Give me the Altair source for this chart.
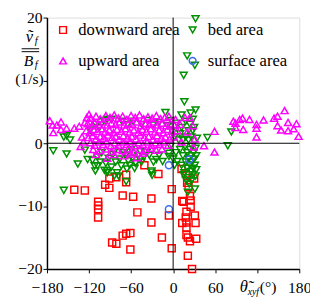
import altair as alt
import pandas as pd

# ---------------- data ----------------
down_x = [-141, -126, -107, -107, -107, -107, -97, -91, -91, -81, -67, -67, -72, -57, -51,
          -87, -81, -72, -67, -61, -61, -41, -31, -31, -21, -16, -6, -2, -2, 12, 13, 18, 20,
          30, 25, 25, 19, 18, 13, 19, 19, 31, 32, 19, 21, 24, 33, 21, 27, 15, 22, 24]
down_y = [-7.4, -7.5, -9.3, -9.9, -10.5, -11.8, -6.6, -7.1, -5.6, -5.4, -5.0, -6.2, -8.3, -8.5, -11.0,
          -15.8, -16.0, -14.7, -14.4, -14.3, -16.9, -3.5, -8.8, -12.6, -4.9, -15.0, -11.5, -7.3, -16.7, -4.1, -9.2, -4.8, -6.3,
          -5.6, -9.1, -10.1, -10.9, -11.8, -12.7, -12.6, -13.4, -11.5, -12.7, -14.6, -15.0, -15.6, -15.2, -17.9, -20.0, -9.3, -7.0, -8.4]

bed_x = [32, 20, 31, 15, 16, 32, -11, 49, 83, 78,
         -171, -152, -136, -156, -156, -152, -147, -118,
         -94, -99, -88, -73, -57, -36, -20, -29, -3, -8, -45, -65, -110, -105, 5, 12, 25, 18, 28, 10, 22,
         -126, -122, -115, -112, -111, -108, -104, -102, -98, -94, -96, -92, -88, -86, -84, -82, -80, -78,
         -76, -74, -70, -68, -66, -64, -62, -60, -58, -55, -53, -50, -47, -45, -42, -38, -34, -31, -30,
         -28, -24, -20, -15, -6, -6, -67, -108, -94, -84, -54, -47, -31,
         6, 10, 12, 14, 15, 16, 17, 18, 19, 20, 20, 21, 22, 22, 23, 24, 24, 25, 26, 26, 27, 27, 28, 29,
         29, 30, 31, 31, 32, 32, 33, 33, 18, 22, 26, 30, 14, 8, 34, 24, 28, 12, 2, 4, -2, -4, 0, 2]
bed_y = [19.8, 13.9, 12.4, 10.8, 6.6, 5.3, 4.9, 0.9, 1.8, -0.4,
         -1.2, -1.7, -3.3, -7.5, 1.0, 1.2, 0.5, 2.1,
         3.8, 3.6, 3.8, 3.5, 3.5, 3.6, 3.3, 2.9, 3.6, 2.8, 3.0, 3.0, 3.0, 2.5, 3.2, 4.5, 4.8, 3.5, 2.0, 1.5, 0.5,
         -1.1, -2.6, -2.7, -3.6, -4.4, -2.2, -3.0, -1.5, -4.3, -4.7, -3.2, -2.4, -3.8, -1.8, -1.3, -3.0, -4.7, -5.2,
         -2.5, -3.6, -1.5, -1.9, -4.1, -2.8, -3.5, -1.0, -2.4, -4.0, -3.2, -2.0, -1.3, -3.0, -2.2, -1.5, -1.9, -4.4, -5.1,
         -3.0, -2.6, -1.9, -2.9, -1.6, -2.1, -6.1, -3.6, -4.4, -5.2, -3.2, -2.6, -4.6,
         -2.9, -1.0, -3.5, -2.0, -5.0, -4.7, -0.5, -3.0, -6.0, -1.5, -4.0, -7.8, -2.5, -5.5, -6.5, -1.0, -3.5, -4.5, -2.0, -6.0, -0.5, -3.0, -5.0, -1.5,
         -4.0, -2.5, -3.5, -7.3, -0.8, -5.2, -2.0, -4.2, 1.0, 2.0, 1.0, 2.5, 0.5, 0.5, 0.8, 3.0, 3.8, 2.5, 1.0, -1.5, 2.0, -0.5, -2.5, -3.5]

up_x = [-176, -172, -171, -166, -160, -160, -152, -141, -134, -126, -123, -130, -128, -132, -120,
        -118, -110, -104, -96, -90, -84, -78, -72, -66, -60, -54, -48, -42, -36, -30, -24, -18, -12, -6,
        -122, -116, -112, -106, -100, -94, -88, -82, -76, -70, -64, -58, -52, -46, -40, -34, -28, -22, -16, -10, -4, 2,
        -124, -119, -113, -108, -102, -97, -91, -85, -80, -74, -68, -62, -56, -50, -44, -38, -32, -26, -20, -14, -8, -2,
        -121, -115, -110, -104, -99, -93, -87, -82, -77, -71, -65, -59, -53, -47, -41, -35, -29, -23, -17, -11, -5,
        -118, -112, -106, -100, -95, -89, -83, -78, -72, -66, -61, -55, -49, -43, -37, -31, -25, -19, -13, -7,
        -114, -104, -96, -88, -80, -72, -64, -56, -48, -40, -32, -24, -16,
        -94, -84, -70, -60, -43, -52, -110,
        3.5, 17, 24, 6, 20, 31, 29, 1, 10, 12, 28, 44, 59, 59,
        86, 89, 99, 109, 100, 119, 119, 119, 129, 144, 149, 159, 149, 154, 164, 164, 172, 176, 179, 95, 89]
up_y = [3.6, 2.9, 1.7, 2.9, 3.4, 2.2, 2.4, 2.4, 2.7, 3.3, 4.1, 1.0, 0.2, -0.5, 4.6,
        4.0, 4.3, 3.9, 4.4, 4.1, 4.5, 4.0, 4.3, 3.8, 4.4, 4.1, 4.5, 3.9, 4.2, 4.0, 4.4, 3.9, 4.1, 4.3,
        3.1, 2.8, 3.3, 3.0, 3.4, 2.9, 3.2, 3.0, 3.4, 2.9, 3.2, 3.0, 3.4, 2.8, 3.2, 3.0, 3.4, 2.9, 3.2, 2.8, 3.1, 2.9,
        2.0, 1.7, 2.2, 1.9, 2.3, 1.8, 2.1, 1.7, 2.2, 1.9, 2.3, 1.8, 2.1, 1.7, 2.2, 1.9, 2.3, 1.8, 2.1, 1.7, 2.2, 1.9,
        0.9, 1.2, 0.7, 1.1, 0.8, 1.3, 0.9, 1.1, 0.6, 1.2, 0.8, 1.1, 0.7, 1.3, 0.9, 1.1, 0.6, 1.2, 0.8, 1.0, 0.7,
        0.1, -0.3, 0.2, -0.2, 0.3, -0.4, 0.1, -0.3, 0.2, -0.2, 0.3, -0.4, 0.1, -0.2, 0.2, -0.3, 0.1, -0.2, 0.2, -0.3,
        -1.0, -1.2, -0.9, -1.3, -1.0, -1.2, -0.9, -1.4, -1.0, -1.2, -0.8, -1.1, -0.9,
        -2.4, -1.8, -2.0, -1.7, -1.6, -2.3, -1.8,
        3.8, 4.1, 4.1, 2.0, 1.8, 0.7, -0.6, 1.0, 3.0, 0.2, 2.8, -0.4, 1.9, -1.4,
        3.5, 2.5, 4.0, 3.8, 2.2, 3.0, 2.4, 1.0, 3.7, 4.0, 4.3, 5.2, 2.8, 2.1, 3.3, 2.0, 2.3, 3.1, 1.1, 3.8, 3.2]

surf_x = [-6, -6, 23]
surf_y = [-3.5, -10.5, -2.6]

# legend fills column by column
cats = ["downward area", "upward area", "bed area", "surface area"]
colors = ["#FF0000", "#FF00FF", "#009000", "#3B6BF0"]
shapes = ["square", "triangle-up", "triangle-down", "circle"]

rows = []
for name, xs, ys in [("downward area", down_x, down_y), ("bed area", bed_x, bed_y),
                     ("upward area", up_x, up_y), ("surface area", surf_x, surf_y)]:
    for a, b in zip(xs, ys):
        rows.append({"theta": a, "v": b, "area": name})
df = pd.DataFrame(rows)

x_ticks = [-180, -120, -60, 0, 60, 120, 180]
y_ticks = [-20, -10, 0, 10, 20]

FONT = "Liberation Serif, Times New Roman, Times, DejaVu Serif, serif"

xscale = alt.Scale(domain=[-180, 180], nice=False, zero=False)
yscale = alt.Scale(domain=[-20, 20], nice=False, zero=False)

points = alt.Chart(df).mark_point(filled=False, strokeWidth=1.5, size=52, opacity=1).encode(
    x=alt.X("theta:Q", scale=xscale, title=None,
            axis=alt.Axis(values=x_ticks, labelExpr="datum.value == 120 ? '' : datum.label",
                          grid=False, tickSize=4, labelPadding=7, labelFont=FONT, labelFontSize=16,
                          labelColor="black", domainColor="black", tickColor="black", domainWidth=1.5,
                          labelFlush=False, labelOverlap=False)),
    y=alt.Y("v:Q", scale=yscale, title=None,
            axis=alt.Axis(values=y_ticks, labelExpr="datum.value == 10 ? '' : datum.label",
                          grid=False, tickSize=4, labelPadding=1, labelFont=FONT, labelFontSize=16,
                          labelColor="black", domainColor="black", tickColor="black", domainWidth=1.5,
                          labelFlush=False, labelOverlap=False)),
    color=alt.Color("area:N", scale=alt.Scale(domain=cats, range=colors),
                    legend=alt.Legend(orient="none", legendX=8, legendY=4, columns=2, title=None,
                                      labelFont=FONT, labelFontSize=17, labelColor="black",
                                      symbolSize=48, symbolStrokeWidth=1.5, symbolFillColor="transparent",
                                      rowPadding=14, columnPadding=4, labelOffset=7, padding=0)),
    shape=alt.Shape("area:N", scale=alt.Scale(domain=cats, range=shapes), legend=None),
)

one = pd.DataFrame({"k": [0]})
vline = alt.Chart(one).mark_rule(color="black", strokeWidth=1).encode(x=alt.X("k:Q", scale=xscale))
hline = alt.Chart(one).mark_rule(color="black", strokeWidth=1).encode(y=alt.Y("k:Q", scale=yscale))


def txt(s, x, y, size=16, style="normal", align="center"):
    return alt.Chart(one).mark_text(text=s, font=FONT, fontSize=size, fontStyle=style, align=align,
                                    baseline="middle", color="black").encode(
        x=alt.value(x), y=alt.value(y))


def bar(x1, x2, y):
    return alt.Chart(one).mark_rule(color="black", strokeWidth=1).encode(
        x=alt.value(x1), x2=alt.value(x2), y=alt.value(y))


annots = [
    txt("ṽ", -18, 20, 17, "italic"),
    txt("f", -11, 24, 11, "italic"),
    bar(-26, -8, 32),
    bar(-26, -8, 35),
    txt("B", -19, 45, 16, "italic"),
    txt("f", -11, 49, 11, "italic"),
    txt("(1/s)", -18, 63, 16),
    txt("θ\u0303", 202, 277, 17, "italic"),
    txt("xyf", 206, 282, 10, "italic", "left"),
    txt("(°)", 227, 277, 16),
]

chart = alt.layer(points, vline, hline, *annots).properties(
    width=259, height=258,
    autosize=alt.AutoSizeParams(type="none"),
    padding={"left": 40, "top": 6, "right": 11, "bottom": 26},
).configure_view(stroke="black", strokeWidth=1.5).configure(background="white")

chart.save("out.html", embed_options={"renderer": "svg", "actions": False})
